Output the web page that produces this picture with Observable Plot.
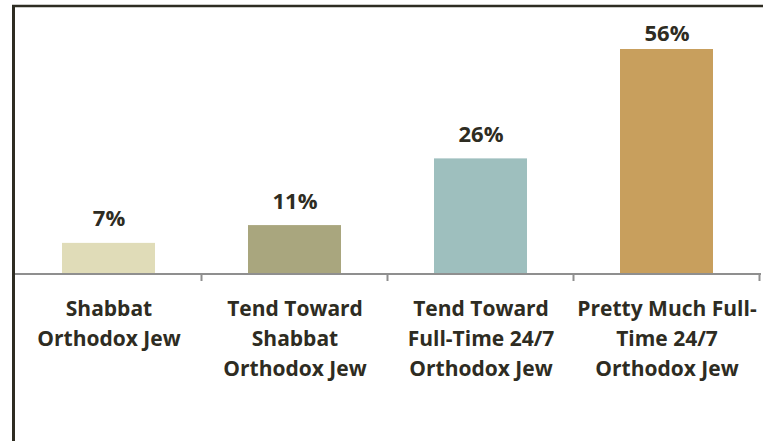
<!DOCTYPE html>
<html><head><meta charset="utf-8">
<script src="https://cdn.jsdelivr.net/npm/d3@7"></script>
<script src="https://cdn.jsdelivr.net/npm/@observablehq/plot@0.6"></script>
<style>body{margin:0;background:#fff}</style>
</head><body><div id="chart"></div>
<script>
const categories = ["Shabbat\nOrthodox Jew", "Tend Toward\nShabbat\nOrthodox Jew", "Tend Toward\nFull-Time 24/7\nOrthodox Jew", "Pretty Much Full-\nTime 24/7\nOrthodox Jew"];
const values = [7, 11, 26, 56];
const colors = ["#e0dcb8", "#a9a67e", "#9ebfbe", "#c89f5d"];
const valueLabels = ["7%", "11%", "26%", "56%"];
const yMax = 50.6;

const data = categories.map((c, i) => ({c, v: values[i], color: colors[i], label: valueLabels[i]}));

function frame(index, scales, values, dim) {
  const x = scales.x, y = scales.y;
  const ns = "http://www.w3.org/2000/svg";
  const g = document.createElementNS(ns, "g");
  const step = x(categories[1]) - x(categories[0]);
  const left = dim.marginLeft, right = dim.width - dim.marginRight;
  const base = y(0);
  const mk = (x1, y1, x2, y2, stroke, w) => {
    const l = document.createElementNS(ns, "line");
    l.setAttribute("x1", x1); l.setAttribute("y1", y1);
    l.setAttribute("x2", x2); l.setAttribute("y2", y2);
    l.setAttribute("stroke", stroke); l.setAttribute("stroke-width", w);
    g.appendChild(l);
  };
  mk(left, base, right, base, "#8f8f8f", 2);
  categories.forEach(c => {
    const xe = x(c) + x.bandwidth() / 2 + step / 2;
    mk(xe, base, xe, base + 7, "#8f8f8f", 2);
  });
  mk(left - 1.5, 6, dim.width, 6, "#2e2c22", 2.5);
  mk(left, 6, left, dim.height, "#2e2c22", 3);
  return g;
}

const textStyle = {fill: "#2e2c22", fontWeight: 700};

const chart = Plot.plot({
  width: 763, height: 441,
  marginLeft: 13.5, marginRight: 2, marginTop: 49, marginBottom: 167,
  x: {domain: categories, paddingInner: 0.5, paddingOuter: 0.25, axis: null},
  y: {domain: [0, yMax], clamp: true, axis: null},
  style: {fontFamily: "'Open Sans', sans-serif", background: "#fff"},
  marks: [
    Plot.barY(data, {x: "c", y: "v", fill: "color"}),
    Plot.text(data.filter(d => d.v <= yMax), {x: "c", y: "v", text: "label", dy: -24, lineAnchor: "middle", fontSize: 22, ...textStyle}),
    Plot.text(data.filter(d => d.v > yMax), {x: "c", y: "v", text: "label", dy: -16, lineAnchor: "middle", fontSize: 22, ...textStyle}),
    Plot.text(data, {x: "c", y: 0, text: "c", dy: 20, lineAnchor: "top", lineHeight: 1.43, fontSize: 21, ...textStyle}),
    frame
  ]
});
document.getElementById("chart").appendChild(chart);
</script></body></html>
